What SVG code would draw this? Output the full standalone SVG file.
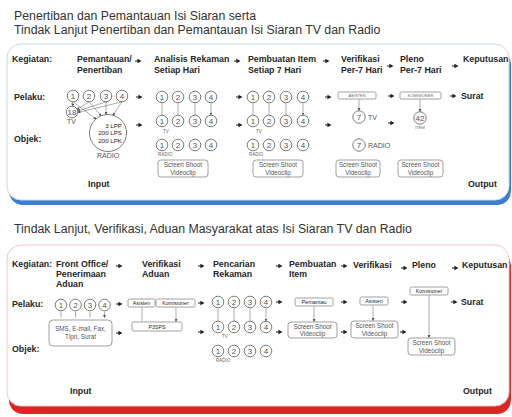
<svg xmlns="http://www.w3.org/2000/svg" xmlns:xlink="http://www.w3.org/1999/xlink" width="512" height="417" viewBox="0 0 512 417">
<style>
.t{font-family:"Liberation Sans",Arial,sans-serif;fill:#262626}
.h{font-size:12.3px;fill:#333}
.b{font-size:8.8px;font-weight:bold}
.n{font-size:8px;fill:#555;text-anchor:middle}
.s{font-size:4.5px;fill:#666}
.m{font-size:7px;fill:#555}
.bt{font-size:6.3px;fill:#555;text-anchor:middle}
.tb{font-size:4px;fill:#666;text-anchor:middle}
.bx{fill:#fff;stroke:#888;stroke-width:0.8}
.c{fill:#fff;stroke:#6f6f6f;stroke-width:0.9}
.ln{stroke:#777;stroke-width:0.6;fill:none;marker-end:url(#mh)}
</style>
<defs>
<marker id="mh" viewBox="0 0 6 6" refX="5" refY="3" markerWidth="3" markerHeight="3" orient="auto" markerUnits="userSpaceOnUse"><path d="M0,0L6,3L0,6z" fill="#555"/></marker>
<path id="ar" d="M0,-0.45h3v0.9h-3z M2.4,-2.3L6.5,0L2.4,2.3z" fill="#1e1e1e"/>
</defs>

<g id="titles">
<text class="t h" x="14" y="20">Penertiban dan Pemantauan Isi Siaran serta</text>
<text class="t h" x="14" y="34">Tindak Lanjut Penertiban dan Pemantauan Isi Siaran TV dan Radio</text>
<text class="t h" x="14" y="233">Tindak Lanjut, Verifikasi, Aduan Masyarakat atas Isi Siaran TV dan Radio</text>
</g>

<g id="panel1">
<rect x="9" y="50" width="502" height="155" rx="14" fill="#3b7dd8"/>
<rect x="7" y="44" width="502" height="156" rx="14" fill="#fff" stroke="#c9dbea" stroke-width="1"/>
</g>
<g id="panel2">
<rect x="9" y="252" width="502" height="162" rx="14" fill="#e02424"/>
<rect x="7" y="245" width="502" height="161" rx="14" fill="#fff" stroke="#ebc8c8" stroke-width="1"/>
</g>

<!-- ===== TOP PANEL ===== -->
<g id="p1-labels" class="t b">
<text x="12" y="62">Kegiatan:</text>
<text x="14" y="100">Pelaku:</text>
<text x="14" y="142">Objek:</text>
<text x="88" y="187">Input</text>
<text x="468" y="187">Output</text>
</g>
<g id="p1-act1" class="t b"><text x="77" y="62">Pemantauan/</text><text x="77" y="73">Penertiban</text></g>
<g id="p1-act2" class="t b"><text x="154" y="62">Analisis Rekaman</text><text x="154" y="73">Setiap Hari</text></g>
<g id="p1-act3" class="t b"><text x="248" y="62">Pembuatan Item</text><text x="248" y="73">Setiap 7 Hari</text></g>
<g id="p1-act4" class="t b"><text x="341" y="62">Verifikasi</text><text x="341" y="73">Per-7 Hari</text></g>
<g id="p1-act5" class="t b"><text x="400" y="62">Pleno</text><text x="400" y="73">Per-7 Hari</text></g>
<g id="p1-act6" class="t b"><text x="463" y="62">Keputusan</text></g>

<g id="p1-pelaku1">
<circle class="c" cx="73" cy="96" r="5.8"/><text class="t n" x="73" y="98.8">1</text>
<circle class="c" cx="89" cy="96" r="5.8"/><text class="t n" x="89" y="98.8">2</text>
<circle class="c" cx="106" cy="96" r="5.8"/><text class="t n" x="106" y="98.8">3</text>
<circle class="c" cx="122" cy="96" r="5.8"/><text class="t n" x="122" y="98.8">4</text>
</g>
<g id="p1-tv18">
<circle class="c" cx="72" cy="112" r="5.8"/><text class="t n" x="72" y="114.8">18</text>
<text class="t m" x="67" y="124">TV</text>
</g>
<g id="p1-radio">
<circle class="c" cx="108" cy="133" r="18.5"/>
<text class="t" font-size="6.2" fill="#555" text-anchor="end" x="122" y="127.5">3 LPP</text>
<text class="t" font-size="6.2" fill="#555" text-anchor="end" x="122" y="135">200 LPS</text>
<text class="t" font-size="6.2" fill="#555" text-anchor="end" x="122" y="142.5">200 LPK</text>
<text class="t m" text-anchor="middle" x="108" y="158">RADIO</text>
</g>

<g id="p1-pelaku2">
<circle class="c" cx="162" cy="97" r="5.8"/><text class="t n" x="162" y="99.8">1</text>
<circle class="c" cx="178" cy="97" r="5.8"/><text class="t n" x="178" y="99.8">2</text>
<circle class="c" cx="195" cy="97" r="5.8"/><text class="t n" x="195" y="99.8">3</text>
<circle class="c" cx="211" cy="97" r="5.8"/><text class="t n" x="211" y="99.8">4</text>
</g>
<g id="p1-tv2">
<circle class="c" cx="162" cy="121" r="5.8"/><text class="t n" x="162" y="123.8">1</text>
<circle class="c" cx="178" cy="121" r="5.8"/><text class="t n" x="178" y="123.8">2</text>
<circle class="c" cx="195" cy="121" r="5.8"/><text class="t n" x="195" y="123.8">3</text>
<circle class="c" cx="211" cy="121" r="5.8"/><text class="t n" x="211" y="123.8">4</text>
<text class="t s" x="163" y="133">TV</text>
</g>
<g id="p1-radio2">
<circle class="c" cx="162" cy="145" r="5.8"/><text class="t n" x="162" y="147.8">1</text>
<circle class="c" cx="178" cy="145" r="5.8"/><text class="t n" x="178" y="147.8">2</text>
<circle class="c" cx="195" cy="145" r="5.8"/><text class="t n" x="195" y="147.8">3</text>
<circle class="c" cx="211" cy="145" r="5.8"/><text class="t n" x="211" y="147.8">4</text>
<text class="t s" x="158" y="155.5">RADIO</text>
</g>
<g id="p1-ss2">
<rect class="bx" x="158" y="160" width="50" height="17" rx="3"/>
<text class="t bt" x="183" y="167">Screen Shoot</text><text class="t bt" x="183" y="174.5">Videoclip</text>
</g>

<g id="p1-pelaku3">
<circle class="c" cx="253" cy="97" r="5.8"/><text class="t n" x="253" y="99.8">1</text>
<circle class="c" cx="269" cy="97" r="5.8"/><text class="t n" x="269" y="99.8">2</text>
<circle class="c" cx="286" cy="97" r="5.8"/><text class="t n" x="286" y="99.8">3</text>
<circle class="c" cx="303" cy="97" r="5.8"/><text class="t n" x="303" y="99.8">4</text>
</g>
<g id="p1-tv3">
<circle class="c" cx="253" cy="121" r="5.8"/><text class="t n" x="253" y="123.8">1</text>
<circle class="c" cx="269" cy="121" r="5.8"/><text class="t n" x="269" y="123.8">2</text>
<circle class="c" cx="286" cy="121" r="5.8"/><text class="t n" x="286" y="123.8">3</text>
<circle class="c" cx="303" cy="121" r="5.8"/><text class="t n" x="303" y="123.8">4</text>
<text class="t s" x="256" y="133">TV</text>
</g>
<g id="p1-radio3">
<circle class="c" cx="253" cy="145" r="5.8"/><text class="t n" x="253" y="147.8">1</text>
<circle class="c" cx="269" cy="145" r="5.8"/><text class="t n" x="269" y="147.8">2</text>
<circle class="c" cx="286" cy="145" r="5.8"/><text class="t n" x="286" y="147.8">3</text>
<circle class="c" cx="303" cy="145" r="5.8"/><text class="t n" x="303" y="147.8">4</text>
<text class="t s" x="249" y="155.5">RADIO</text>
</g>
<g id="p1-ss3">
<rect class="bx" x="253" y="160" width="50" height="17" rx="3"/>
<text class="t bt" x="278" y="167">Screen Shoot</text><text class="t bt" x="278" y="174.5">Videoclip</text>
</g>

<g id="p1-asisten">
<rect class="bx" x="338" y="92" width="38" height="7" rx="1.5"/>
<text class="t tb" x="357" y="97">ASISTEN</text>
</g>
<g id="p1-tv7">
<circle class="c" cx="359" cy="117" r="6.2"/><text class="t n" x="359" y="119.8">7</text>
<text class="t m" x="368" y="120">TV</text>
</g>
<g id="p1-radio7">
<circle class="c" cx="359" cy="145" r="6.2"/><text class="t n" x="359" y="147.8">7</text>
<text class="t m" x="368" y="148">RADIO</text>
</g>
<g id="p1-ss4">
<rect class="bx" x="336" y="160" width="44" height="17" rx="3"/>
<text class="t bt" x="358" y="167">Screen Shoot</text><text class="t bt" x="358" y="174.5">Videoclip</text>
</g>

<g id="p1-komisioner">
<rect class="bx" x="400" y="92" width="41" height="7" rx="1.5"/>
<text class="t tb" x="420.5" y="97">KOMISIONER</text>
</g>
<g id="p1-item42">
<circle class="c" cx="420" cy="118" r="6.2"/><text class="t n" x="420" y="120.8">42</text>
<text class="t tb" x="420" y="129">ITEM</text>
</g>
<g id="p1-ss5">
<rect class="bx" x="398" y="160" width="45" height="17" rx="3"/>
<text class="t bt" x="420.5" y="167">Screen Shoot</text><text class="t bt" x="420.5" y="174.5">Videoclip</text>
</g>
<g id="p1-surat"><text class="t b" x="461" y="99">Surat</text></g>

<!-- ===== BOTTOM PANEL ===== -->
<g id="p2-labels" class="t b">
<text x="12" y="267">Kegiatan:</text>
<text x="12" y="307">Pelaku:</text>
<text x="12" y="352">Objek:</text>
<text x="70" y="394">Input</text>
<text x="463" y="394">Output</text>
</g>
<g id="p2-act1" class="t b"><text x="56" y="267">Front Office/</text><text x="56" y="277">Penerimaan</text><text x="56" y="287">Aduan</text></g>
<g id="p2-act2" class="t b"><text x="142" y="267">Verifikasi</text><text x="142" y="277">Aduan</text></g>
<g id="p2-act3" class="t b"><text x="213" y="267">Pencarian</text><text x="213" y="277">Rekaman</text></g>
<g id="p2-act4" class="t b"><text x="289" y="267">Pembuatan</text><text x="289" y="277">Item</text></g>
<g id="p2-act5" class="t b"><text x="353" y="268">Verifikasi</text></g>
<g id="p2-act6" class="t b"><text x="412" y="268">Pleno</text></g>
<g id="p2-act7" class="t b"><text x="462" y="268">Keputusan</text></g>

<g id="p2-pelaku1">
<circle class="c" cx="61" cy="305" r="5.8"/><text class="t n" x="61" y="307.8">1</text>
<circle class="c" cx="75.5" cy="305" r="5.8"/><text class="t n" x="75.5" y="307.8">2</text>
<circle class="c" cx="90" cy="305" r="5.8"/><text class="t n" x="90" y="307.8">3</text>
<circle class="c" cx="104.5" cy="305" r="5.8"/><text class="t n" x="104.5" y="307.8">4</text>
</g>
<g id="p2-sms">
<rect class="bx" x="49" y="320" width="63" height="26" rx="4"/>
<text class="t bt" x="80.5" y="331">SMS, E-mail, Fax,</text><text class="t bt" x="80.5" y="339">Tlpn, Surat</text>
</g>

<g id="p2-asisten1">
<rect class="bx" x="128" y="299" width="27" height="8" rx="1.5"/>
<text class="t" font-size="5.3" fill="#555" text-anchor="middle" x="141.5" y="305">Asisten</text>
</g>
<g id="p2-komisioner1">
<rect class="bx" x="156" y="299" width="39" height="8" rx="1.5"/>
<text class="t" font-size="5.3" fill="#555" text-anchor="middle" x="175.5" y="305">Komisioner</text>
</g>
<g id="p2-p3sps">
<rect class="bx" x="132" y="322" width="50" height="9" rx="1.5"/>
<text class="t" font-size="5.3" fill="#555" text-anchor="middle" x="157" y="328.5">P3SPS</text>
</g>

<g id="p2-pelaku3">
<circle class="c" cx="218" cy="302" r="5.8"/><text class="t n" x="218" y="304.8">1</text>
<circle class="c" cx="234" cy="302" r="5.8"/><text class="t n" x="234" y="304.8">2</text>
<circle class="c" cx="250" cy="302" r="5.8"/><text class="t n" x="250" y="304.8">3</text>
<circle class="c" cx="266" cy="302" r="5.8"/><text class="t n" x="266" y="304.8">4</text>
</g>
<g id="p2-tv3">
<circle class="c" cx="218" cy="327" r="5.8"/><text class="t n" x="218" y="329.8">1</text>
<circle class="c" cx="234" cy="327" r="5.8"/><text class="t n" x="234" y="329.8">2</text>
<circle class="c" cx="250" cy="327" r="5.8"/><text class="t n" x="250" y="329.8">3</text>
<circle class="c" cx="266" cy="327" r="5.8"/><text class="t n" x="266" y="329.8">4</text>
<text class="t s" x="222" y="337.5">TV</text>
</g>
<g id="p2-radio3">
<circle class="c" cx="218" cy="351" r="5.8"/><text class="t n" x="218" y="353.8">1</text>
<circle class="c" cx="234" cy="351" r="5.8"/><text class="t n" x="234" y="353.8">2</text>
<circle class="c" cx="250" cy="351" r="5.8"/><text class="t n" x="250" y="353.8">3</text>
<circle class="c" cx="266" cy="351" r="5.8"/><text class="t n" x="266" y="353.8">4</text>
<text class="t s" x="216" y="361.5">RADIO</text>
</g>

<g id="p2-pemantau">
<rect class="bx" x="295" y="298" width="38" height="8" rx="1.5"/>
<text class="t" font-size="5.5" fill="#555" text-anchor="middle" x="314" y="304">Pemantau</text>
</g>
<g id="p2-ss4">
<rect class="bx" x="288" y="322" width="49" height="16" rx="3"/>
<text class="t bt" x="312.5" y="328.8">Screen Shoot</text><text class="t bt" x="312.5" y="336">Videoclip</text>
</g>
<g id="p2-asisten5">
<rect class="bx" x="360" y="297" width="28" height="8" rx="1.5"/>
<text class="t" font-size="5.3" fill="#555" text-anchor="middle" x="374" y="303">Asisten</text>
</g>
<g id="p2-ss5">
<rect class="bx" x="351" y="321" width="47" height="17" rx="3"/>
<text class="t bt" x="374.5" y="328">Screen Shoot</text><text class="t bt" x="374.5" y="335.5">Videoclip</text>
</g>
<g id="p2-komisioner6">
<rect class="bx" x="410" y="287" width="38" height="8" rx="1.5"/>
<text class="t" font-size="5.3" fill="#555" text-anchor="middle" x="429" y="293">Komisioner</text>
</g>
<g id="p2-ss6">
<rect class="bx" x="408" y="338" width="47" height="17" rx="3"/>
<text class="t bt" x="431.5" y="345">Screen Shoot</text><text class="t bt" x="431.5" y="352.5">Videoclip</text>
</g>
<g id="p2-surat"><text class="t b" x="461" y="305">Surat</text></g>

<!-- ===== CONNECTORS ===== -->
<g id="connectors">
<use xlink:href="#ar" x="135" y="61"/>
<use xlink:href="#ar" x="234" y="61"/>
<use xlink:href="#ar" x="323" y="61"/>
<use xlink:href="#ar" x="387" y="66"/>
<use xlink:href="#ar" x="452" y="66"/>
<use xlink:href="#ar" x="136" y="97"/>
<use xlink:href="#ar" x="236" y="97"/>
<use xlink:href="#ar" x="325" y="97"/>
<use xlink:href="#ar" x="388" y="96"/>
<use xlink:href="#ar" x="450" y="96"/>
<use xlink:href="#ar" x="136" y="125"/>
<use xlink:href="#ar" x="236" y="125"/>
<use xlink:href="#ar" x="325" y="125"/>
<use xlink:href="#ar" x="388" y="123"/>
<path class="ln" d="M73,101.8L72.5,106"/>
<path class="ln" d="M89,101.8L77,109.5"/>
<path class="ln" d="M106,101.8L77.8,111"/>
<path class="ln" d="M122,101.8L78,112.5"/>
<path class="ln" d="M73,101.8L96,119"/>
<path class="ln" d="M89,101.8L101,115.8"/>
<path class="ln" d="M106,101.8L106,114.4"/>
<path class="ln" d="M122,101.8L113,115.3"/>
<path class="ln" d="M162,103.2V115M178,103.2V115M195,103.2V115M211,103.2V115"/>
<path class="ln" d="M253,103.2V115M269,103.2V115M286,103.2V115M303,103.2V115"/>
<path class="ln" d="M359,99.5V110.5"/>
<path class="ln" d="M420,99.5V111.5"/>

<use xlink:href="#ar" x="116" y="266"/>
<use xlink:href="#ar" x="198" y="266"/>
<use xlink:href="#ar" x="276" y="266"/>
<use xlink:href="#ar" x="341" y="266"/>
<use xlink:href="#ar" x="401" y="268"/>
<use xlink:href="#ar" x="452" y="268"/>
<use xlink:href="#ar" x="116" y="304"/>
<use xlink:href="#ar" x="198" y="303"/>
<use xlink:href="#ar" x="276" y="302"/>
<use xlink:href="#ar" x="341" y="302"/>
<use xlink:href="#ar" x="401" y="302"/>
<use xlink:href="#ar" x="451" y="302"/>
<use xlink:href="#ar" x="116" y="333"/>
<use xlink:href="#ar" x="198" y="332"/>
<use xlink:href="#ar" x="276" y="332"/>
<use xlink:href="#ar" x="341" y="332"/>
<use xlink:href="#ar" x="400" y="332"/>
<path class="ln" d="M61,311.5V317.5M75.5,311.5V317.5M90,311.5V317.5M104.5,311.5V317.5"/>
<path class="ln" d="M142,307.5V321.5M176,307.5V321.5"/>
<path class="ln" d="M218,308.3V321M234,308.3V321M250,308.3V321M266,308.3V321"/>
<path class="ln" d="M314,306.5V321.5"/>
<path class="ln" d="M373,305.5V320.5"/>
<path class="ln" d="M429,295.5V337.5"/>
</g>
</svg>
